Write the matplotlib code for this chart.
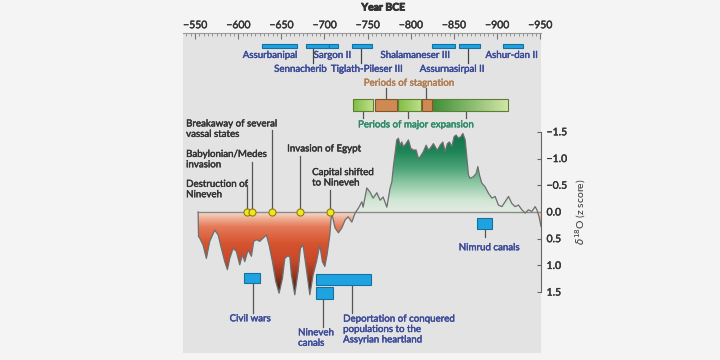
import numpy as np
import matplotlib
matplotlib.use('Agg')
import matplotlib.pyplot as plt
import matplotlib.patheffects as pe
from matplotlib.colors import LinearSegmentedColormap, Normalize
from matplotlib.patches import Rectangle, PathPatch
from matplotlib.path import Path
from matplotlib.ticker import MultipleLocator, FuncFormatter

plt.rcParams['font.family'] = ['Lato', 'DejaVu Sans']

# speleothem d18O record (z score), years BCE
year = np.array([553.5, 554, 555.4, 559.3, 563.1, 567, 572.8, 576.7, 580.5, 584.4, 587.5, 590.2,
                 594.1, 597.9, 601.8, 604.9, 607.6, 611.4, 615.3, 618, 621.1, 625, 628.8, 632.7,
                 635.8, 639.7, 643.5, 647.4, 651.3, 654, 656.7, 659.8, 661.7, 665.6, 669.4, 672.1,
                 675.2, 679.1, 683, 686.8, 690.7, 694.6, 697.6, 700.4, 703, 706.2, 707.5, 708.5,
                 712.3, 716.2, 720.1, 723.9, 727.4, 731.7, 735.5, 739.3, 743.3, 744.8, 749.1, 752.9,
                 756.4, 760.7, 764.5, 768, 772.3, 776.1, 778.1, 779.9, 783.8, 785.7, 787.7, 789.6,
                 791.5, 794.6, 797.3, 800.1, 803.1, 806.2, 808.9, 810.9, 814.7, 817.8, 820.5, 822.5,
                 826.3, 829.4, 831, 834.1, 837.2, 839.9, 842.5, 844.9, 847.6, 850.3, 852.6, 855.3,
                 858.1, 860.4, 863.1, 865, 866.9, 868.8, 872.7, 875.8, 877.8, 879.7, 882.4, 886.2,
                 890.1, 894, 897.8, 901.6, 905.6, 909.4, 913.3, 917.2, 921, 924.9, 928.8, 932.6,
                 936.5, 940.4, 944.2, 946.2, 948.8, 951])
zscore = np.array([0.0, 0.46, 0.49, 0.62, 0.87, 0.55, 0.34, 0.43, 0.68, 0.93, 1.08, 0.87,
                   0.68, 0.74, 0.99, 0.80, 0.93, 0.71, 0.83, 0.55, 0.52, 0.55, 0.49, 0.43,
                   0.62, 0.93, 1.30, 1.52, 1.24, 0.87, 0.83, 0.83, 1.18, 1.55, 1.12, 0.68,
                   0.62, 1.08, 1.55, 1.18, 0.93, 0.62, 0.93, 1.02, 0.80, 0.43, 0.15, 0.03,
                   0.30, 0.39, 0.30, 0.15, 0.09, 0.19, 0.02, -0.07, -0.19, -0.09, -0.45, -0.37,
                   -0.26, -0.36, -0.22, -0.28, -0.09, -0.45, -0.56, -0.85, -1.35, -1.38, -1.25, -1.31,
                   -1.22, -1.28, -1.35, -1.19, -1.16, -1.16, -1.00, -1.03, -1.13, -1.25, -1.16, -1.19,
                   -1.28, -1.19, -1.16, -1.25, -1.31, -1.13, -1.28, -1.31, -1.22, -1.41, -1.44, -1.38,
                   -1.41, -1.47, -1.35, -1.03, -0.69, -0.63, -0.66, -0.72, -0.85, -0.69, -0.54, -0.47,
                   -0.35, -0.26, -0.29, -0.13, -0.10, -0.19, -0.29, -0.16, -0.10, -0.13, -0.04, 0.02,
                   -0.04, -0.01, -0.10, -0.04, 0.09, 0.27])

# kings' reigns (top)
reign_names = ['Assurbanipal', 'Sennacherib', 'Sargon II', 'Tiglath-Pileser III',
               'Shalamaneser III', 'Assurnasirpal II', 'Ashur-dan II']
reign_start = [628, 679, 705, 732, 825, 856, 907]
reign_end = [668, 705, 716, 755, 851, 880, 930]
reign_row = [0, 1, 0, 1, 0, 1, 0]
reign_label_x = [637, 672, 709, 749, 805, 848, 917]
reign_tick_x = [None, 687, None, 742, None, 866, None]

# periods of expansion / stagnation
period_start = [733, 759, 785, 813, 826]
period_end = [756, 784, 812, 825, 913]
period_kind = ['exp', 'stag', 'exp', 'stag', 'exp2']
stag_tick_x = [771, 818]
exp_tick_x = [745, 797, 864]

# historical events (yellow dots)
event_year = [610, 616, 639, 672, 706]
event_text = ['Destruction of\nNineveh', 'Babylonian/Medes\ninvasion', 'Breakaway of several\nvassal states',
              'Invasion of Egypt', 'Capital shifted\nto Nineveh']
event_text_x = [539.6, 539.6, 539.6, 656.7, 685.7]
event_text_y = [-0.42, -0.98, -1.55, -1.18, -0.64]
event_line_top = [-0.50, -0.93, -1.53, -1.05, -0.41]

# blue boxes below the record
box_names = ['Civil wars', 'Deportation of conquered\npopulations to the\nAssyrian heartland',
             'Nineveh\ncanals', 'Nimrud canals']
box_start = [607, 690, 690, 877]
box_end = [625, 754, 710, 894]
box_top = [1.14, 1.16, 1.40, 0.11]
box_bot = [1.33, 1.36, 1.63, 0.32]
box_line_x = [617, 732, 698, 886]
box_line_end = [1.89, 1.89, 2.15, 0.47]
box_text_x = [614, 721.6, 669.4, 891]
box_text_y = [2.0, 2.20, 2.36, 0.67]
box_text_ha = ['center', 'left', 'left', 'center']

blue = '#1fa3e0'
blue_edge = '#17709f'
blue_text = '#3a4a98'
dark_text = '#333333'
fs = 7


def thick(color, w=0.3):
    return [pe.withStroke(linewidth=w, foreground=color)]


fig = plt.figure(figsize=(7.2, 3.6), dpi=100, facecolor='#f4f4f4')
ax = fig.add_axes([183 / 720, 7 / 360, 358 / 720, 320 / 360])
ax.set_facecolor('#e3e3e3')

x0, x1 = 536, 951
ylo, yhi = 2.64, -3.35

# gradient fills under the curve
red_cmap = LinearSegmentedColormap.from_list('red', [
    (0.0, '#f7e6dc'), (0.07, '#f0b89e'), (0.18, '#e47a58'), (0.38, '#d6532f'),
    (0.58, '#c9472a'), (0.74, '#9a3820'), (0.88, '#5a2415'), (1.0, '#2c140b')])
green_cmap = LinearSegmentedColormap.from_list('green', [
    (0.0, '#e4ebe2'), (0.15, '#cfe6d3'), (0.35, '#8fc9a5'), (0.55, '#4aa277'),
    (0.75, '#1f8458'), (1.0, '#116d47')])

for sign, cmap, zmax in [(1, red_cmap, 1.6), (-1, green_cmap, 1.5)]:
    if sign > 0:
        pc = ax.fill_between(year, zscore, 0, where=zscore > 0, interpolate=True, color='none', lw=0)
    else:
        pc = ax.fill_between(year, zscore, 0, where=zscore < 0, interpolate=True, color='none', lw=0)
    path = Path.make_compound_path(*pc.get_paths())
    clip = PathPatch(path, transform=ax.transData, fc='none', ec='none')
    ax.add_patch(clip)
    grad = np.linspace(0, zmax, 256)[:, None]
    im = ax.imshow(grad, cmap=cmap, norm=Normalize(0, zmax), aspect='auto', origin='lower',
                   extent=[year[0], year[-1], 0, sign * zmax], zorder=1)
    im.set_clip_path(clip)

ax.plot([553.5, x1], [0, 0], color='#8a8a8a', lw=1.0, zorder=2)
ax.plot(year, zscore, color='#6e6e6e', lw=0.9, zorder=3)

# events
for yr, txt, tx, ty, top in zip(event_year, event_text, event_text_x, event_text_y, event_line_top):
    ax.plot([yr, yr], [top, 0], color='#555555', lw=0.9, zorder=4)
    ax.text(tx, ty, txt, ha='left', va='center', fontsize=fs, color=dark_text,
            linespacing=1.2, zorder=6, path_effects=thick(dark_text))
ax.scatter(event_year, [0] * len(event_year), s=26, color='#f3e41c', edgecolor='#8c7d12',
           linewidth=0.8, zorder=5)

# blue boxes
for name, s, e, t, b, lx, le, tx, ty, ha in zip(box_names, box_start, box_end, box_top, box_bot,
                                                 box_line_x, box_line_end, box_text_x, box_text_y,
                                                 box_text_ha):
    ax.plot([lx, lx], [b, le], color='#555555', lw=0.9, zorder=4)
    ax.add_patch(Rectangle((s, t), e - s, b - t, fc=blue, ec=blue_edge, lw=0.8, zorder=5))
    ax.text(tx, ty, name, ha=ha, va='center', fontsize=fs, color=blue_text,
            linespacing=1.2, path_effects=thick(blue_text))

# reigns
rb_top, rb_bot = -3.15, -3.06
row_y = [-2.93, -2.67]
for name, s, e, r, lx, tk in zip(reign_names, reign_start, reign_end, reign_row,
                                 reign_label_x, reign_tick_x):
    ax.add_patch(Rectangle((s, rb_top), e - s, rb_bot - rb_top, fc=blue, ec=blue_edge,
                           lw=0.8, zorder=5))
    if tk is not None:
        ax.plot([tk, tk], [rb_bot, -2.78], color='#444444', lw=0.9, zorder=4)
    ax.text(lx, row_y[r], name, ha='center', va='center', fontsize=fs, color=blue_text,
            path_effects=thick(blue_text))

# periods bar
pb_top, pb_bot = -2.11, -1.89
seg_colors = {'exp': ('#7fbd45', '#bfe08a'), 'exp2': ('#3f9038', '#d2e7a6')}
for s, e, k in zip(period_start, period_end, period_kind):
    if k == 'stag':
        ax.add_patch(Rectangle((s, pb_top), e - s, pb_bot - pb_top, fc='#cf8953',
                               ec='#80552e', lw=0.8, zorder=5))
    else:
        c = LinearSegmentedColormap.from_list(k, seg_colors[k])
        ax.imshow(np.linspace(0, 1, 64)[None, :], cmap=c, aspect='auto',
                  extent=[s, e, pb_bot, pb_top], zorder=5)
        ax.add_patch(Rectangle((s, pb_top), e - s, pb_bot - pb_top, fc='none',
                               ec='#5f7d35', lw=0.8, zorder=6))
for tx in stag_tick_x:
    ax.plot([tx, tx], [-2.32, pb_top], color='#555555', lw=0.9, zorder=4)
for tx in exp_tick_x:
    ax.plot([tx, tx], [pb_bot, -1.76], color='#555555', lw=0.9, zorder=4)
ax.text(798, -2.41, 'Periods of stagnation', ha='center', va='center', fontsize=fs,
        color='#b07c52', path_effects=thick('#b07c52'))
ax.text(806, -1.63, 'Periods of major expansion', ha='center', va='center', fontsize=fs,
        color='#2c8a66', path_effects=thick('#2c8a66'))

# axes styling
ax.set_xlim(x0, x1)
ax.set_ylim(ylo, yhi)
ax.xaxis.tick_top()
ax.set_xticks(np.arange(550, 951, 50))
ax.xaxis.set_minor_locator(MultipleLocator(5))
ax.xaxis.set_major_formatter(FuncFormatter(lambda v, p: '\u2212%d' % v))
ax.tick_params(axis='x', which='major', direction='in', length=4, width=0.8, color='#777777',
               labelsize=7.5, labelcolor='#333333', pad=2)
ax.tick_params(axis='x', which='minor', direction='in', length=2, width=0.6, color='#888888')
ax.text(0.559, 1.078, 'Year BCE', transform=ax.transAxes, ha='center', va='center',
        fontsize=7.5, fontweight='bold', color='#333333', path_effects=thick('#333333', 0.6))

ax.yaxis.tick_right()
ax.set_yticks([-1.5, -1.0, -0.5, 0.0, 0.5, 1.0, 1.5])
ax.yaxis.set_major_formatter(FuncFormatter(lambda v, p: ('%.1f' % v).replace('-', '\u2212')))
ax.tick_params(axis='y', direction='in', length=3, width=0.8, color='#666666',
               labelsize=7.5, labelcolor='#333333', pad=4)
ax.yaxis.set_label_position('right')
ax.set_ylabel(r'$\delta^{18}$O (z score)', fontsize=7.5, color='#333333', rotation=90)
ax.yaxis.set_label_coords(1.089, 0.44)
for lab in ax.get_xticklabels() + ax.get_yticklabels():
    lab.set_path_effects(thick('#333333', 0.3))

for side in ['left', 'bottom']:
    ax.spines[side].set_visible(False)
ax.spines['top'].set_color('#999999')
ax.spines['top'].set_linewidth(0.8)
ax.spines['right'].set_color('#666666')
ax.spines['right'].set_linewidth(0.8)
ax.spines['right'].set_bounds(-1.5, 1.5)

fig.savefig('out.png', dpi=100, facecolor=fig.get_facecolor())
